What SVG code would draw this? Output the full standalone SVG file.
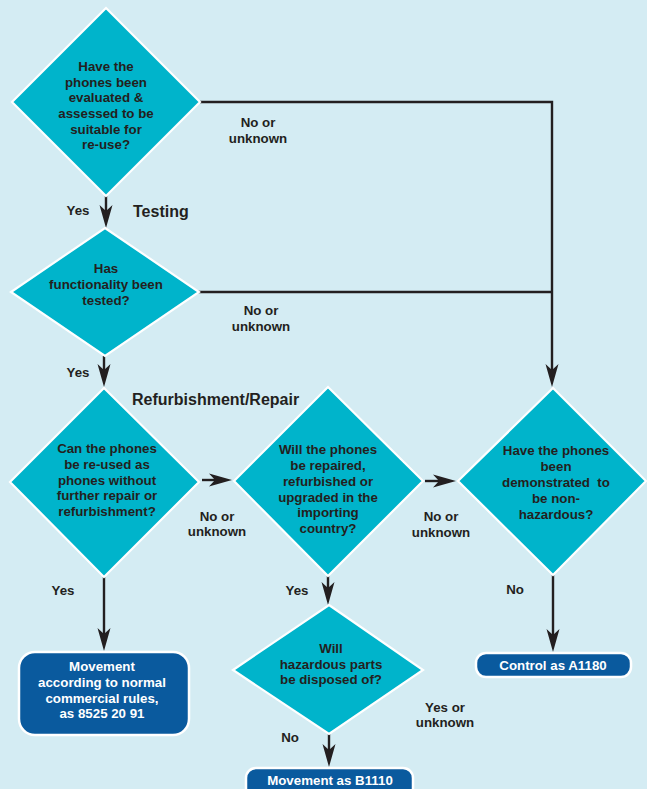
<svg xmlns="http://www.w3.org/2000/svg" width="647" height="789" viewBox="0 0 647 789">
<style>
.bg{fill:#d4ecf3}
.dia{fill:#00b4cb;stroke:#fff;stroke-width:2.2}
.box{fill:#0a5a9e;stroke:#fff;stroke-width:2.5}
.t{font-family:"Liberation Sans",Arial,sans-serif;font-weight:bold;font-size:13.3px;fill:#231f20;text-anchor:middle}
.w{fill:#fff}
.h{font-size:16px;text-anchor:start}
.c{fill:none;stroke:#231f20;stroke-width:2.4}
</style>
<defs>
<marker id="ah" markerUnits="userSpaceOnUse" markerWidth="26" markerHeight="16" viewBox="-14 -8 26 16" refX="0" refY="0" orient="auto">
<path d="M10,0 L-13,-6.5 L-7,0 L-13,6.5 Z" fill="#231f20"/>
</marker>
</defs>
<rect class="bg" x="0" y="0" width="647" height="789"/>

<g id="connectors">
<path class="c" d="M106,196 V218" marker-end="url(#ah)"/>
<path class="c" d="M104,356 V377" marker-end="url(#ah)"/>
<path class="c" d="M200,102 H552 V377" marker-end="url(#ah)"/>
<path class="c" d="M198,292 H552"/>
<path class="c" d="M202,480 H222" marker-end="url(#ah)"/>
<path class="c" d="M425,481 H446" marker-end="url(#ah)"/>
<path class="c" d="M104,577 V641" marker-end="url(#ah)"/>
<path class="c" d="M328,576 V595" marker-end="url(#ah)"/>
<path class="c" d="M553,575 V642" marker-end="url(#ah)"/>
<path class="c" d="M329,734 V757" marker-end="url(#ah)"/>
</g>

<g id="labels">
<text class="t h" x="133" y="217">Testing</text>
<text class="t h" x="132" y="405">Refurbishment/Repair</text>
<text class="t" x="78" y="215">Yes</text>
<text class="t" x="78" y="377">Yes</text>
<text class="t" x="258" y="127">No or</text>
<text class="t" x="258" y="143">unknown</text>
<text class="t" x="261" y="315">No or</text>
<text class="t" x="261" y="331">unknown</text>
<text class="t" x="217" y="521">No or</text>
<text class="t" x="217" y="536">unknown</text>
<text class="t" x="441" y="521">No or</text>
<text class="t" x="441" y="537">unknown</text>
<text class="t" x="63" y="595">Yes</text>
<text class="t" x="297" y="595">Yes</text>
<text class="t" x="515" y="594">No</text>
<text class="t" x="290" y="742">No</text>
<text class="t" x="445" y="712">Yes or</text>
<text class="t" x="445" y="727">unknown</text>
</g>

<g id="d1">
<polygon class="dia" points="106,8 200,102 106,196 12,102"/>
<text class="t" x="106" y="71">Have the</text>
<text class="t" x="106" y="87">phones been</text>
<text class="t" x="106" y="102">evaluated &amp;</text>
<text class="t" x="106" y="118">assessed to be</text>
<text class="t" x="106" y="134">suitable for</text>
<text class="t" x="106" y="149">re-use?</text>
</g>

<g id="d2">
<polygon class="dia" points="105,228 199,292 105,356 11,292"/>
<text class="t" x="106" y="273">Has</text>
<text class="t" x="106" y="289">functionality been</text>
<text class="t" x="106" y="305">tested?</text>
</g>

<g id="d3">
<polygon class="dia" points="104,388 199,482 104,577 10,482"/>
<text class="t" x="107" y="453">Can the phones</text>
<text class="t" x="107" y="469">be re-used as</text>
<text class="t" x="107" y="485">phones without</text>
<text class="t" x="107" y="500">further repair or</text>
<text class="t" x="107" y="516">refurbishment?</text>
</g>

<g id="d4">
<polygon class="dia" points="328,387 423,481 328,576 234,481"/>
<text class="t" x="328" y="454">Will the phones</text>
<text class="t" x="328" y="470">be repaired,</text>
<text class="t" x="328" y="486">refurbished or</text>
<text class="t" x="328" y="502">upgraded in the</text>
<text class="t" x="328" y="517">importing</text>
<text class="t" x="328" y="533">country?</text>
</g>

<g id="d5">
<polygon class="dia" points="553,388 646,481 553,575 458,481"/>
<text class="t" x="556" y="455">Have the phones</text>
<text class="t" x="556" y="471">been</text>
<text class="t" x="556" y="487" xml:space="preserve">demonstrated  to</text>
<text class="t" x="556" y="503">be non-</text>
<text class="t" x="556" y="519">hazardous?</text>
</g>

<g id="d6">
<polygon class="dia" points="329,605 423,670 329,734 233,670"/>
<text class="t" x="331" y="653">Will</text>
<text class="t" x="331" y="669">hazardous parts</text>
<text class="t" x="331" y="684">be disposed of?</text>
</g>

<g id="b1">
<rect class="box" x="19" y="652" width="170" height="83" rx="16"/>
<text class="t w" x="102" y="671">Movement</text>
<text class="t w" x="102" y="687">according to normal</text>
<text class="t w" x="102" y="703">commercial rules,</text>
<text class="t w" x="102" y="718">as 8525 20 91</text>
</g>

<g id="b2">
<rect class="box" x="246" y="768" width="167" height="30" rx="10"/>
<text class="t w" x="330" y="785">Movement as B1110</text>
</g>

<g id="b3">
<rect class="box" x="476" y="653" width="155" height="24" rx="10"/>
<text class="t w" x="553" y="670">Control as A1180</text>
</g>
</svg>
